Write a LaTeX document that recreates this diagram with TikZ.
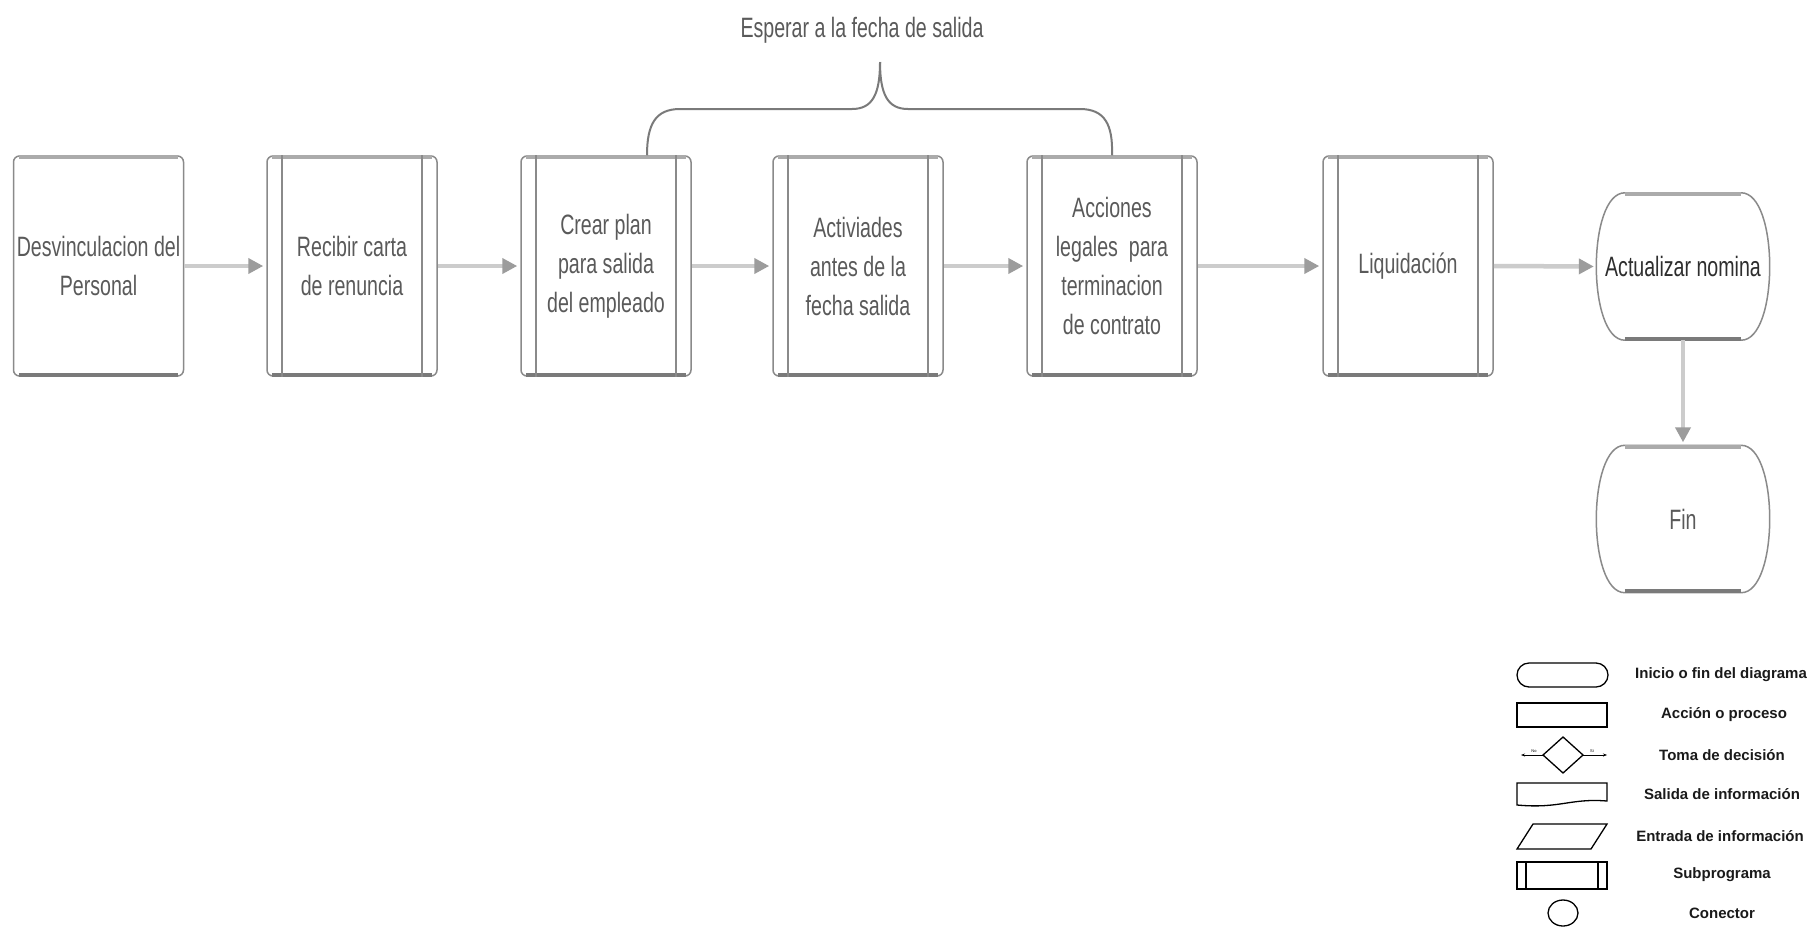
\documentclass[tikz,border=0pt]{standalone}
\usepackage{fontspec}
\usetikzlibrary{arrows.meta,calc}
\newfontfamily\narrowsf[FakeStretch=0.7]{Liberation Sans}
\newfontfamily\legsf{Liberation Sans}
\definecolor{boxgray}{HTML}{8A8A8A}
\definecolor{topgray}{HTML}{ABABAB}
\definecolor{botgray}{HTML}{7A7A7A}
\definecolor{shaftgray}{HTML}{CCCCCC}
\definecolor{headgray}{HTML}{9C9C9C}
\definecolor{txtgray}{HTML}{5A5A5A}
\definecolor{txtdark}{HTML}{2E2E2E}
\definecolor{legtxt}{HTML}{1A1A1A}
\newcommand\termpath[1]{%
  \draw[termline] ([xshift=28pt]#1.north west) -- ([xshift=-28pt]#1.north east)
    .. controls ([xshift=10pt]#1.north east) and ([xshift=10pt]#1.south east) .. ([xshift=-28pt]#1.south east)
    -- ([xshift=28pt]#1.south west)
    .. controls ([xshift=-10pt]#1.south west) and ([xshift=-10pt]#1.north west) .. cycle;
  \draw[topband] ([xshift=28pt,yshift=-1.5pt]#1.north west) -- ([xshift=-28pt,yshift=-1.5pt]#1.north east);
  \draw[botband] ([xshift=28pt,yshift=1.5pt]#1.south west) -- ([xshift=-28pt,yshift=1.5pt]#1.south east);
}
\begin{document}
\begin{tikzpicture}[x=1pt,y=-1pt,
  mainfont/.style={font=\narrowsf\fontsize{28}{39}\selectfont},
  box/.style={rectangle, rounded corners=6pt, draw=boxgray, line width=1.5pt, fill=white,
    minimum width=170pt, minimum height=220pt, inner sep=0pt, align=center, text=txtgray, mainfont},
  term/.style={rectangle, draw=none, minimum width=172pt, minimum height=147pt, inner sep=0pt,
    align=center, text=txtgray, mainfont},
  termline/.style={draw=boxgray, line width=1.5pt, fill=white},
  topband/.style={draw=topgray, line width=4pt},
  botband/.style={draw=botgray, line width=4pt},
  inner/.style={draw=boxgray, line width=2pt},
  flow/.style={draw=shaftgray, line width=4.5pt, shorten >=3pt,
    -{Triangle[length=15pt,width=15pt,color=headgray]}},
  brace/.style={draw=botgray, line width=2pt},
  leg/.style={draw=black, line width=1.3pt},
  legtext/.style={font=\legsf\bfseries\fontsize{15}{17}\selectfont, text=legtxt, anchor=center},
]
\useasboundingbox (0,0) rectangle (1815,930);
\fill[white] (0,0) rectangle (1815,930);

% main nodes
\node[box] (b1) at (98.5,266) {Desvinculacion del\\Personal};
\node[box] (b2) at (352,266) {Recibir carta\\de renuncia};
\node[box] (b3) at (606,266) {Crear plan\\para salida\\del empleado};
\node[box] (b4) at (858,266) {Activiades\\antes de la\\fecha salida};
\node[box] (b5) at (1112,266) {Acciones\\legales\ \ para\\terminacion\\de contrato};
\node[box] (b6) at (1408,266) {Liquidación};

\foreach \n in {b1,b2,b3,b4,b5,b6}{
  \draw[topband] ([xshift=6pt,yshift=-1.5pt]\n.north west) -- ([xshift=-6pt,yshift=-1.5pt]\n.north east);
  \draw[botband] ([xshift=6pt,yshift=1.5pt]\n.south west) -- ([xshift=-6pt,yshift=1.5pt]\n.south east);
}
\foreach \n in {b2,b3,b4,b5,b6}{
  \draw[inner] ([xshift=16pt]\n.north west) -- ([xshift=16pt]\n.south west);
  \draw[inner] ([xshift=-16pt]\n.north east) -- ([xshift=-16pt]\n.south east);
}

% terminators
\node[term] (act) at (1683,266.5) {};
\node[term] (fin) at (1683,519) {};
\termpath{act}
\termpath{fin}
\node[term, text=txtdark] at (act.center) {Actualizar nomina};
\node[term] at (fin.center) {Fin};

% connectors
\draw[flow] (b1.east) -- (b2.west);
\draw[flow] (b2.east) -- (b3.west);
\draw[flow] (b3.east) -- (b4.west);
\draw[flow] (b4.east) -- (b5.west);
\draw[flow] (b5.east) -- (b6.west);
\draw[flow] (b6.east) -- (act.west);
\draw[flow] (act.south) -- (fin.north);

% brace
\coordinate (btip) at (880,62);
\draw[brace] ([xshift=41pt]b3.north) .. controls (647,125) and (655,109) .. (680,109) -- (852,109)
  .. controls (872,109) and (880,95) .. (btip);
\draw[brace] (b5.north) .. controls (1113,125) and (1105,109) .. (1080,109) -- (908,109)
  .. controls (888,109) and (880,95) .. (btip);
\node[mainfont, text=txtgray, inner sep=0pt] (lbl) at (862,30) {Esperar a la fecha de salida};

% legend
\draw[leg, rounded corners=12pt] (1517,663) rectangle (1608,687);
\draw[leg] (1517,703) rectangle (1607,727);
\draw[leg] (1563,737) -- (1583,755) -- (1563,773) -- (1543,755) -- cycle;
\draw[draw=black, line width=0.8pt, -{Stealth[length=4pt,width=3pt]}] (1543,755) -- (1521,755);
\draw[draw=black, line width=0.8pt, -{Stealth[length=4pt,width=3pt]}] (1583,755) -- (1607,755);
\node[font=\legsf\fontsize{4}{4}\selectfont, inner sep=0pt] at (1534,751) {No};
\node[font=\legsf\fontsize{4}{4}\selectfont, inner sep=0pt] at (1592,751) {Si};
\draw[leg] (1517,805) -- (1517,783) -- (1607,783) -- (1607,801)
  .. controls (1570,798) and (1560,809) .. cycle;
\draw[leg] (1517,849) -- (1533,824) -- (1607,824) -- (1591,849) -- cycle;
\draw[leg] (1517,862) rectangle (1607,889);
\draw[leg] (1526,862) -- (1526,889);
\draw[leg] (1598,862) -- (1598,889);
\draw[leg] (1563,913) ellipse [x radius=15, y radius=13];

\node[legtext] at (1721,675) {Inicio o fin del diagrama};
\node[legtext] at (1724,715) {Acción o proceso};
\node[legtext] at (1722,755) {Toma de decisión};
\node[legtext] at (1722,794) {Salida de información};
\node[legtext] at (1720,836) {Entrada de información};
\node[legtext] at (1722,875) {Subprograma};
\node[legtext] at (1722,913) {Conector};
\end{tikzpicture}
\end{document}
